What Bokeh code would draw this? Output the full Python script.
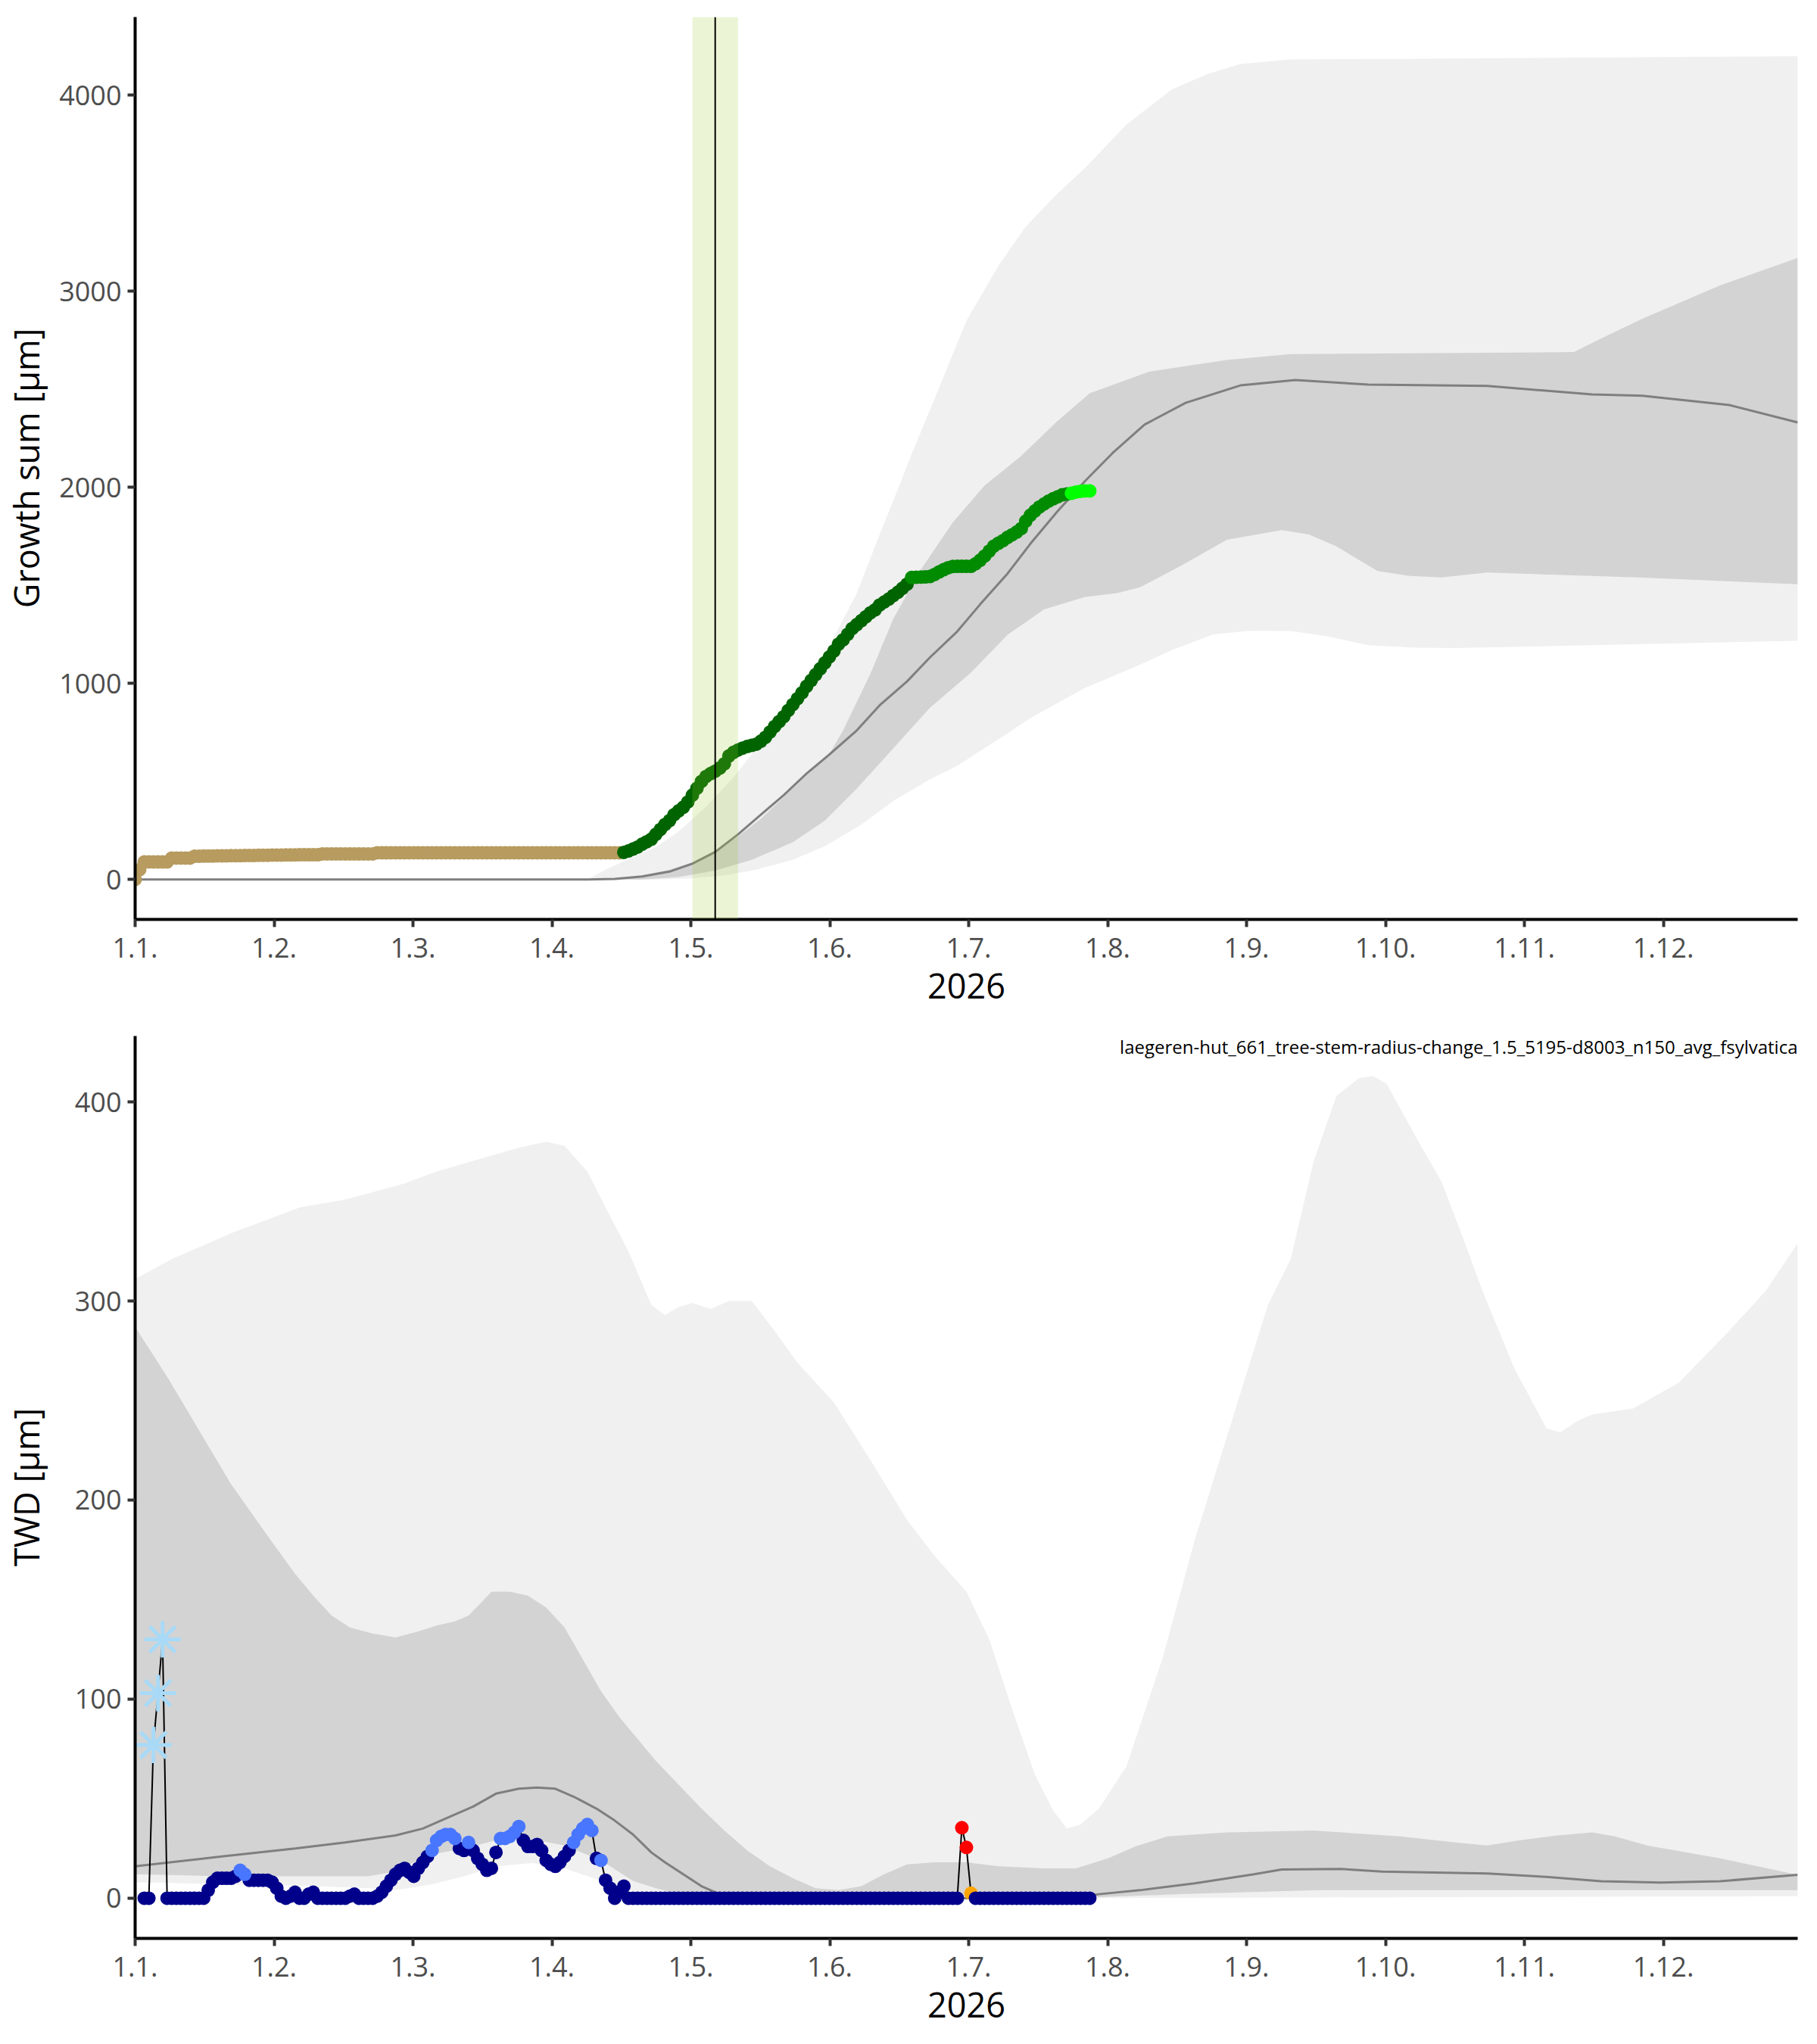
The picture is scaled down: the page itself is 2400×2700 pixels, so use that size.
from bokeh.plotting import figure
from bokeh.layouts import column
from bokeh.models import Range1d, FixedTicker, CustomJSTickFormatter, BoxAnnotation, Span, Label
from bokeh.embed import file_html
from bokeh.resources import INLINE

FONT = "Open Sans"

# ---------------- axis labels ----------------
month_labels = ["1.1.", "1.2.", "1.3.", "1.4.", "1.5.", "1.6.",
                "1.7.", "1.8.", "1.9.", "1.10.", "1.11.", "1.12."]
growth_yticks = [0, 1000, 2000, 3000, 4000]
twd_yticks = [0, 100, 200, 300, 400]
title_text = "laegeren-hut_661_tree-stem-radius-change_1.5_5195-d8003_n150_avg_fsylvatica"

# ---------------- growth panel: reference bands (day of year, µm) ----------------
g_outer_hi_doy = [1, 100, 104, 110, 115, 120, 126, 132, 137, 143, 148, 153, 159, 164, 168, 171, 176, 183,
                  190, 196, 203, 209, 218, 228, 236, 243, 254, 280, 365]
g_outer_hi = [0, 0, 50, 115, 165, 245, 370, 520, 670, 840, 1010, 1190, 1460, 1760, 1990, 2170, 2450, 2850,
              3130, 3330, 3500, 3630, 3850, 4030, 4110, 4160, 4183, 4186, 4199]
g_outer_lo_doy = [1, 115, 122, 130, 137, 145, 152, 160, 167, 175, 181, 186, 192, 197, 203, 209, 220, 228,
                  237, 245, 254, 262, 271, 281, 290, 320, 365]
g_outer_lo = [0, 0, 5, 20, 50, 100, 170, 280, 400, 510, 580, 655, 745, 823, 900, 978, 1085, 1170,
              1250, 1268, 1267, 1240, 1195, 1182, 1180, 1195, 1217]
g_inner_hi_doy = [1, 105, 112, 118, 123, 128, 133, 138, 143, 148, 153, 156, 162, 167, 173, 180, 187, 195,
                  203, 210, 223, 240, 254, 316, 322, 331, 348, 365]
g_inner_hi = [0, 0, 20, 50, 88, 145, 220, 310, 420, 530, 640, 760, 1050, 1330, 1580, 1820, 2010, 2160,
              2340, 2480, 2590, 2650, 2680, 2690, 2760, 2860, 3030, 3170]
g_inner_lo_doy = [1, 112, 120, 128, 136, 145, 152, 159, 167, 175, 184, 192, 200, 209, 216, 221, 230, 240,
                  252, 258, 264, 273, 280, 287, 297, 330, 365]
g_inner_lo = [0, 0, 12, 45, 100, 190, 300, 463, 669, 875, 1055, 1248, 1377, 1441, 1460, 1490, 1600, 1733,
              1782, 1760, 1699, 1573, 1548, 1540, 1566, 1540, 1506]
g_median_doy = [1, 100, 106, 112, 118, 123, 128, 133, 138, 143, 148, 153, 159, 164, 170, 175, 181, 186,
                192, 197, 203, 209, 215, 222, 231, 243, 255, 271, 297, 320, 331, 350, 365]
g_median = [0, 0, 3, 15, 40, 80, 140, 230, 330, 430, 540, 637, 760, 888, 1010, 1132, 1265, 1403,
            1560, 1712, 1879, 2033, 2175, 2320, 2431, 2520, 2547, 2524, 2517, 2474, 2467, 2420, 2331]

# ---------------- growth panel: measured daily growth sum (µm) ----------------
tan_start = 1
tan_values = [0, 50, 89, 89, 89, 89, 89, 89, 109, 109, 109, 109, 109,
              118, 118, 119, 119, 119, 120, 120, 120, 121, 121, 121, 122, 122, 122, 123, 123, 123,
              124, 124, 124, 125, 125, 125, 126, 126, 126, 126, 126,
              130, 130, 130, 130, 130, 130, 130, 130, 130, 130, 130, 130,
              136, 136, 136, 136, 136, 136, 136, 136, 136, 136, 136, 136, 136, 136, 136, 136, 136, 136,
              136, 136, 136, 136, 136, 136, 136, 136, 136, 136, 136, 136, 136, 136, 136, 136, 136, 136,
              136, 136, 136, 136, 136, 136, 136, 136, 136, 136, 136, 136, 136, 136, 136, 136, 136, 136]
dgreen_start = 108
dgreen_values = [138, 145, 155, 165, 180, 192, 205, 230, 255, 280,
                 300, 330, 350, 368, 395, 430, 465, 500, 525, 540,
                 552, 568, 590, 630, 648, 660, 670, 678, 684, 690,
                 705, 725, 752, 780, 805, 830, 862, 892, 922, 952,
                 985, 1015, 1045, 1075, 1105, 1135, 1165, 1200, 1222, 1250,
                 1280, 1300, 1320, 1340, 1360, 1375, 1400, 1415, 1430, 1448,
                 1465, 1485, 1506]
green_start = 171
green_values = [1540, 1541, 1542, 1543, 1545, 1555, 1568, 1580, 1590, 1596,
                1597, 1597, 1597, 1597, 1610, 1628, 1650, 1675, 1700, 1715,
                1728, 1745, 1758, 1772, 1790, 1828, 1858, 1880, 1900, 1915,
                1930, 1942, 1952, 1962, 1966]
lime_start = 206
lime_values = [1970, 1976, 1980, 1982, 1982]

onset_window = (123, 133)
onset_day = 128

# ---------------- TWD panel: reference bands ----------------
t_outer_hi_doy = [1, 9, 22, 37, 47, 60, 67, 79, 85, 91, 95, 100, 104, 109, 114, 117, 120, 123, 127, 131,
                  136, 141, 146, 154, 162, 170, 176, 183, 188, 193, 198, 202, 205, 208, 212, 218, 226, 233,
                  241, 249, 254, 259, 264, 269, 272, 275, 282, 287, 292, 296, 303, 310, 313, 317, 320, 329,
                  339, 350, 358, 365]
t_outer_hi = [311, 321, 334, 347, 351, 359, 365, 373, 377, 380, 378, 365, 347, 325, 298, 293, 297, 299, 296, 300,
              300, 285, 269, 249, 220, 190, 172, 154, 130, 95, 62, 44, 35, 37, 45, 66, 121, 180,
              239, 298, 321, 370, 403, 412, 413, 409, 380, 360, 330, 305, 266, 236, 234, 240, 243, 246,
              259, 285, 305, 329]
t_outer_lo_doy = [1, 20, 40, 52, 58, 66, 73, 80, 88, 95, 103, 110, 115, 122, 205, 365]
t_outer_lo = [8, 7, 6, 5, 4, 7, 11, 16, 17.6, 15, 8.7, 3.6, 1.7, 0, 0, 1]
t_inner_hi_doy = [1, 8, 15, 22, 30, 36, 40, 44, 48, 53, 58, 63, 67, 71, 74, 77, 79, 83, 87, 91, 95, 99,
                  103, 107, 111, 115, 120, 125, 130, 135, 140, 145, 150, 155, 160, 165, 170, 176, 183, 190,
                  200, 207, 214, 220, 227, 240, 259, 278, 290, 297, 304, 312, 320, 325, 332, 348, 365]
t_inner_hi = [287, 262, 235, 208, 182, 163, 152, 142, 136, 133, 131, 134, 137, 139, 142, 149, 154, 154, 152,
              146, 136, 120, 104, 91, 80, 69, 57, 45, 34, 24, 16, 10, 5, 4, 6, 12, 17, 18, 18, 16,
              15, 15, 20, 26, 31, 33, 34, 31, 28, 26.5, 29, 31.4, 33, 31, 26.5, 20, 11.7]
t_inner_lo_doy = [1, 20, 40, 52, 57, 61, 66, 73, 80, 88, 95, 103, 110, 115, 120, 128, 205, 230, 260, 300, 365]
t_inner_lo = [12, 11, 11, 11, 13, 17, 22, 25, 29, 29.6, 26.5, 19, 8.7, 5, 2, 0, 0, 2, 4, 4, 4]
t_median_doy = [1, 20, 36, 47, 58, 64, 69, 75, 80, 85, 89, 93, 97, 102, 106, 110, 114, 117, 121, 125, 129,
                133, 205, 212, 221, 233, 246, 252, 265, 274, 297, 310, 322, 335, 348, 365]
t_median = [16, 21, 25, 28, 31.5, 35, 40, 46, 52.5, 55, 55.6, 55, 51, 45, 39, 32, 23, 18, 12, 6, 2,
            0, 0, 2, 4, 7.5, 12, 14.4, 14.7, 13.4, 12.4, 10.7, 8.5, 7.8, 8.5, 11.7]

# ---------------- TWD panel: measured daily TWD (µm) ----------------
twd_start = 3
twd_values = [0, 0, 77, 103, 130, 0, 0, 0, 0, 0, 0, 0, 0, 0,
              4, 8, 10, 10, 10, 10, 11, 14, 12, 9, 9, 9, 9, 9,
              8, 5, 1, 0, 1, 3, 0, 0, 2, 3, 0, 0, 0, 0, 0, 0, 0, 1, 2, 0,
              0, 0, 0, 1, 3, 6, 9, 12, 14, 15, 13, 11, 15, 18, 21, 24, 29, 31, 32, 32,
              30, 25, 24, 28, 24, 20, 17, 14, 15, 23, 30, 30, 31, 33, 36, 29, 26, 26, 27, 24,
              19, 17, 16, 18, 21, 24, 28, 32, 35, 37, 34, 20, 19, 9, 5, 0, 3, 6, 0, 0,
              0, 0, 0, 0, 0, 0, 0, 0, 0, 0, 0, 0, 0, 0, 0, 0, 0, 0, 0, 0, 0, 0, 0, 0,
              0, 0, 0, 0, 0, 0, 0, 0, 0, 0, 0, 0, 0, 0, 0, 0, 0, 0, 0, 0, 0, 0, 0, 0,
              0, 0, 0, 0, 0, 0, 0, 0, 0, 0, 0, 0, 0, 0, 0, 0, 0, 0, 0, 0, 0, 0, 0,
              35.4, 25.5, 2.5,
              0, 0, 0, 0, 0, 0, 0, 0, 0, 0, 0, 0, 0, 0, 0, 0, 0, 0, 0, 0, 0, 0, 0, 0, 0, 0]
twd_blue_days = [24, 25, 66, 67, 68, 69, 70, 71, 74, 81, 82, 83, 84, 85, 97, 98, 99, 100, 101, 103]
twd_snow_days = [5, 6, 7]
twd_red_days = [182, 183]
twd_orange_days = [184]

# ---------------- colours ----------------
C_OUTER = "#F0F0F0"
C_INNER = "#D3D3D3"
C_MED = "#7F7F7F"
C_TAN = "#B79B5F"
C_DGREEN = "#006400"
C_GREEN = "#008B00"
C_LIME = "#00FF00"
C_NAVY = "#00008B"
C_BLUE = "#4876FF"
C_SNOW = "#A8DAF7"
C_RED = "#FF0000"
C_ORANGE = "#FFA500"


def style(p, yticks, ylabel, label_standoff):
    p.outline_line_color = None
    p.xgrid.visible = False
    p.ygrid.visible = False
    p.background_fill_color = "white"
    p.border_fill_color = "white"
    for ax in (p.xaxis[0], p.yaxis[0]):
        ax.axis_line_color = "black"
        ax.axis_line_width = 4
        ax.major_tick_line_color = "#333333"
        ax.major_tick_line_width = 4
        ax.major_tick_out = 10
        ax.major_tick_in = 0
        ax.minor_tick_line_color = None
        ax.major_label_text_font = FONT
        ax.major_label_text_font_size = "36px"
        ax.major_label_text_color = "#4D4D4D"
        ax.axis_label_text_font = FONT
        ax.axis_label_text_font_size = "45px"
        ax.axis_label_text_font_style = "normal"
        ax.axis_label_text_color = "black"
    xa = p.xaxis[0]
    xa.ticker = FixedTicker(ticks=[1 + i * 365 / 12 for i in range(len(month_labels))])
    xa.formatter = CustomJSTickFormatter(args=dict(labels=month_labels),
                                         code="return labels[Math.round((tick - 1) * 12 / 365)];")
    xa.axis_label = "2026"
    xa.major_label_standoff = 14
    xa.axis_label_standoff = 18
    ya = p.yaxis[0]
    ya.ticker = FixedTicker(ticks=yticks)
    ya.axis_label = ylabel
    ya.major_label_standoff = 8
    ya.axis_label_standoff = label_standoff


def band(p, hx, hy, lx, ly, color):
    p.patch(x=list(hx) + list(lx)[::-1], y=list(hy) + list(ly)[::-1],
            fill_color=color, line_color=None)


def days(start, vals):
    return list(range(start, start + len(vals)))


# ---------------- top panel ----------------
p1 = figure(width=2390, height=1342, x_range=Range1d(1, 365), y_range=Range1d(-204, 4399),
            output_backend="svg", toolbar_location=None,
            min_border_left=176, min_border_right=16, min_border_top=22, min_border_bottom=128)
style(p1, growth_yticks, "Growth sum [µm]", 10)
band(p1, g_outer_hi_doy, g_outer_hi, g_outer_lo_doy, g_outer_lo, C_OUTER)
band(p1, g_inner_hi_doy, g_inner_hi, g_inner_lo_doy, g_inner_lo, C_INNER)
p1.line(g_median_doy, g_median, line_color=C_MED, line_width=3)
for start, vals, col in ((tan_start, tan_values, C_TAN), (dgreen_start, dgreen_values, C_DGREEN),
                         (green_start, green_values, C_GREEN), (lime_start, lime_values, C_LIME)):
    p1.scatter(days(start, vals), vals, marker="circle", size=18, fill_color=col, line_color=None)
p1.add_layout(BoxAnnotation(left=onset_window[0], right=onset_window[1], fill_color="yellowgreen",
                            fill_alpha=0.2, line_color=None))
p1.add_layout(Span(location=onset_day, dimension="height", line_color="black", line_width=2))

# ---------------- bottom panel ----------------
p2 = figure(width=2390, height=1342, x_range=Range1d(1, 365), y_range=Range1d(-20.2, 433.1),
            output_backend="svg", toolbar_location=None,
            min_border_left=176, min_border_right=16, min_border_top=26, min_border_bottom=124)
style(p2, twd_yticks, "TWD [µm]", 31)
band(p2, t_outer_hi_doy, t_outer_hi, t_outer_lo_doy, t_outer_lo, C_OUTER)
band(p2, t_inner_hi_doy, t_inner_hi, t_inner_lo_doy, t_inner_lo, C_INNER)
p2.line(t_median_doy, t_median, line_color=C_MED, line_width=3)

twd_days = days(twd_start, twd_values)
p2.line(twd_days, twd_values, line_color="black", line_width=2)


def pick(day_list):
    xs, ys = [], []
    for d, v in zip(twd_days, twd_values):
        if d in day_list:
            xs.append(d)
            ys.append(v)
    return xs, ys


special = set(twd_blue_days + twd_snow_days + twd_red_days + twd_orange_days)
ox, oy = pick(twd_orange_days)
p2.scatter(ox, oy, marker="circle", size=18, fill_color=C_ORANGE, line_color=None)
nx = [d for d in twd_days if d not in special]
ny = [v for d, v in zip(twd_days, twd_values) if d not in special]
p2.scatter(nx, ny, marker="circle", size=18, fill_color=C_NAVY, line_color=None)
bx, by = pick(twd_blue_days)
p2.scatter(bx, by, marker="circle", size=18, fill_color=C_BLUE, line_color=None)
rx, ry = pick(twd_red_days)
p2.scatter(rx, ry, marker="circle", size=18, fill_color=C_RED, line_color=None)
sx, sy = pick(twd_snow_days)
p2.scatter(sx, sy, marker="asterisk", size=48, line_color=C_SNOW, line_width=5)

p2.add_layout(Label(x=365, y=427.8, text=title_text, text_align="right", text_baseline="alphabetic",
                    text_font=FONT, text_font_size="24px", text_color="black"))

layout = column(p1, p2, spacing=0)
open("out.html", "w").write(file_html(layout, INLINE))
